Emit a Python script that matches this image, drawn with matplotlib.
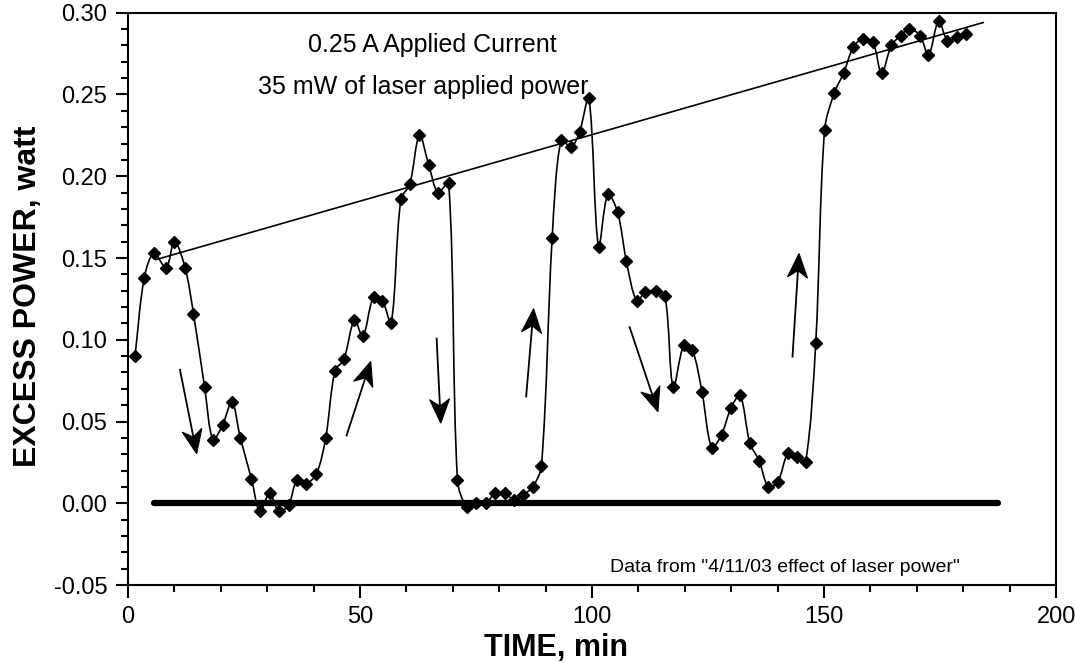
"""Excess power vs. time for 0.25 A applied current with laser on/off cycles."""

from __future__ import annotations

import matplotlib

matplotlib.use("Agg")
import matplotlib.pyplot as plt
import numpy as np
from matplotlib.patches import PathPatch, Polygon
from matplotlib.path import Path
from matplotlib.ticker import FuncFormatter, MultipleLocator

plt.rcParams["font.family"] = ["Liberation Sans", "DejaVu Sans"]

# Measured points (min, watt)
time_min = [
    1.5, 3.5, 5.6, 8.2, 10.0, 12.3, 14.1, 16.5, 18.3, 20.4,
    22.4, 24.2, 26.6, 28.4, 30.5, 32.5, 34.6, 36.4, 38.3, 40.6,
    42.6, 44.6, 46.5, 48.8, 50.6, 52.9, 54.8, 56.7, 58.8, 60.7,
    62.8, 64.8, 66.8, 69.1, 71.0, 73.0, 75.0, 77.1, 79.1, 81.3,
    83.2, 85.1, 87.2, 89.1, 91.4, 93.3, 95.5, 97.3, 99.3, 101.4,
    103.4, 105.5, 107.4, 109.6, 111.5, 113.7, 115.7, 117.5, 119.8, 121.6,
    123.7, 125.8, 127.9, 129.9, 131.9, 134.0, 136.0, 138.0, 140.0, 142.3,
    144.1, 146.0, 148.2, 150.1, 152.2, 154.2, 156.3, 158.3, 160.5, 162.4,
    164.5, 166.5, 168.4, 170.7, 172.5, 174.7, 176.6, 178.6, 180.6,
]
excess_power = [
    0.090, 0.138, 0.153, 0.144, 0.160, 0.144, 0.116, 0.071, 0.039, 0.048,
    0.062, 0.040, 0.015, -0.005, 0.006, -0.005, -0.001, 0.014, 0.012, 0.018,
    0.040, 0.081, 0.088, 0.112, 0.102, 0.126, 0.124, 0.110, 0.186, 0.195,
    0.225, 0.207, 0.190, 0.196, 0.014, -0.002, 0.000, 0.000, 0.006, 0.006,
    0.002, 0.005, 0.010, 0.023, 0.162, 0.222, 0.218, 0.227, 0.248, 0.157,
    0.189, 0.178, 0.148, 0.124, 0.129, 0.130, 0.127, 0.071, 0.097, 0.094,
    0.068, 0.034, 0.042, 0.058, 0.066, 0.037, 0.026, 0.010, 0.013, 0.031,
    0.028, 0.025, 0.098, 0.228, 0.251, 0.263, 0.279, 0.284, 0.282, 0.263,
    0.280, 0.286, 0.290, 0.286, 0.274, 0.295, 0.283, 0.285, 0.287,
]

# hand-drawn trend line and zero baseline
trend_t = [6.0, 184.3]
trend_p = [0.149, 0.294]
zero_t = [5.6, 187.4]
zero_p = [0.0, 0.0]

# arrows: tail -> head
arrow_tail_t = [11.2, 47.1, 66.5, 85.8, 108.1, 143.2]
arrow_tail_p = [0.0816, 0.0415, 0.1007, 0.0653, 0.1077, 0.0897]
arrow_head_t = [14.8, 52.3, 67.4, 87.4, 114.2, 144.6]
arrow_head_p = [0.0303, 0.0867, 0.0490, 0.1190, 0.0560, 0.1527]


def smooth_path(ax, x, y):
    # smoothed line like Excel: Bezier through every point, control
    # lengths weighted by the on-screen length of neighbouring segments
    trans = ax.transData
    pts = trans.transform(np.column_stack([x, y]).astype(float))
    n = len(pts)
    seg = np.hypot(*np.diff(pts, axis=0).T)
    verts = [pts[0]]
    codes = [Path.MOVETO]
    for i in range(n - 1):
        p1, p2 = pts[i], pts[i + 1]
        d12 = seg[i]
        if i > 0:
            d01 = seg[i - 1]
            c1 = p1 + (p2 - pts[i - 1]) * d12 / (d01 + d12) / 3.0
        else:
            c1 = p1 + (p2 - p1) / 3.0
        if i + 2 < n:
            d23 = seg[i + 1]
            c2 = p2 - (pts[i + 2] - p1) * d12 / (d12 + d23) / 3.0
        else:
            c2 = p2 - (p2 - p1) / 3.0
        verts += [c1, c2, p2]
        codes += [Path.CURVE4] * 3
    verts = trans.inverted().transform(np.array(verts))
    return Path(verts, codes)


def draw_arrow(ax, tail, head, length=24.0, half_width=10.0, notch=7.0):
    # stealth-style arrow (barbed head), built in pixel space
    trans = ax.transData
    p0, p1 = trans.transform([tail, head])
    u = (p1 - p0) / np.hypot(*(p1 - p0))
    nrm = np.array([-u[1], u[0]])
    back = p1 - u * length
    inner = back + u * notch
    head_px = [p1, back + nrm * half_width, inner, back - nrm * half_width]
    head_xy = trans.inverted().transform(np.array(head_px))
    shaft = trans.inverted().transform(np.array([p0, inner]))
    ax.plot(shaft[:, 0], shaft[:, 1], color="black", linewidth=1.3, zorder=3)
    ax.add_patch(Polygon(head_xy, closed=True, facecolor="black", edgecolor="black",
                         linewidth=0.8, zorder=3))


def main():
    fig = plt.figure(figsize=(10.75, 6.63), dpi=100)
    ax = fig.add_axes([0.1191, 0.1176, 0.8633, 0.8632])
    ax.set_xlim(0, 200)
    ax.set_ylim(-0.05, 0.30)

    ax.plot(zero_t, zero_p, color="black", linewidth=4.5, solid_capstyle="round", zorder=2)
    ax.plot(trend_t, trend_p, color="black", linewidth=1.2, zorder=2)

    ax.add_patch(PathPatch(smooth_path(ax, time_min, excess_power), facecolor="none",
                           edgecolor="black", linewidth=1.2, zorder=3))
    ax.plot(time_min, excess_power, linestyle="none", marker="D", markersize=6.3,
            color="black", zorder=4)

    for t0, p0, t1, p1 in zip(arrow_tail_t, arrow_tail_p, arrow_head_t, arrow_head_p):
        draw_arrow(ax, (t0, p0), (t1, p1))

    ax.text(65.5, 0.2805, "0.25 A Applied Current", ha="center", va="center", fontsize=18)
    ax.text(63.6, 0.2543, "35 mW of laser applied power", ha="center", va="center", fontsize=18)
    ax.text(141.6, -0.0395, 'Data from "4/11/03 effect of laser power"', ha="center",
            va="center", fontsize=14)

    ax.xaxis.set_major_locator(MultipleLocator(50))
    ax.xaxis.set_minor_locator(MultipleLocator(10))
    ax.yaxis.set_major_locator(MultipleLocator(0.05))
    ax.yaxis.set_minor_locator(MultipleLocator(0.01))
    ax.yaxis.set_major_formatter(FuncFormatter(lambda v, _: f"{v:.2f}"))
    ax.tick_params(which="both", direction="out", width=1.5, labelsize=17, colors="black")
    ax.tick_params(which="major", length=9, pad=6)
    ax.tick_params(which="minor", length=5)
    for spine in ax.spines.values():
        spine.set_linewidth(1.5)

    ax.text(0.461, -0.110, "TIME, min", transform=ax.transAxes, ha="center", va="center",
            fontsize=22, fontweight="bold")
    ax.text(-0.108, 0.505, "EXCESS POWER, watt", transform=ax.transAxes, ha="center",
            va="center", rotation=90, fontsize=23, fontweight="bold")

    fig.savefig("out.png", dpi=100)
    plt.close(fig)


if __name__ == "__main__":
    main()
